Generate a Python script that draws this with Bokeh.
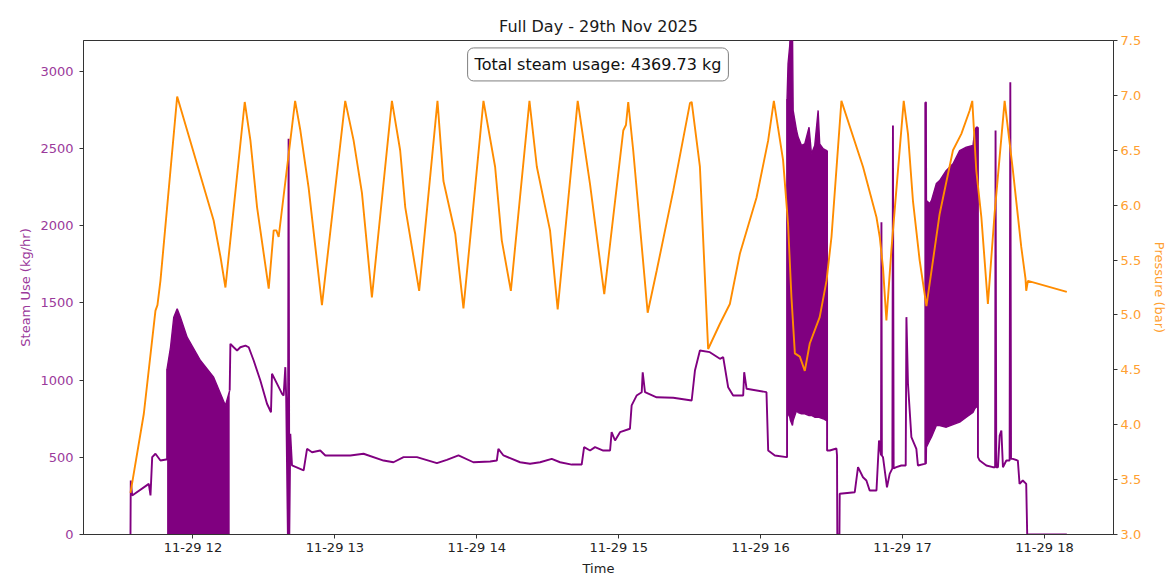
import pandas as pd
from bokeh.plotting import figure
from bokeh.models import (Range1d, LinearAxis, FixedTicker, DatetimeTickFormatter,
                          NumeralTickFormatter, Label)
from bokeh.embed import file_html
from bokeh.resources import INLINE

DAY = "2025-11-29"
TITLE = "Full Day - 29th Nov 2025"
TOTAL_TEXT = "Total steam usage: 4369.73 kg"
X_LABEL = "Time"
Y_LABEL = "Steam Use (kg/hr)"
Y2_LABEL = "Pressure (bar)"

# ---- pressure (bar), times in hours after midnight ----
pressure_hours = [11.560, 11.654, 11.736, 11.750, 11.771, 11.889, 12.146, 12.194, 12.229,
                  12.365, 12.405, 12.452, 12.534, 12.569, 12.588, 12.604, 12.720, 12.757,
                  12.815, 12.909, 13.073, 13.132, 13.191, 13.261, 13.402, 13.460, 13.496,
                  13.594, 13.723, 13.765, 13.848, 13.906, 14.047, 14.129, 14.176, 14.240,
                  14.371, 14.423, 14.516, 14.570, 14.711, 14.798, 14.898, 15.032, 15.051,
                  15.067, 15.102, 15.204, 15.267, 15.384, 15.502, 15.514, 15.572, 15.630,
                  15.713, 15.783, 15.854, 15.971, 16.053, 16.093, 16.158, 16.193, 16.217,
                  16.241, 16.276, 16.311, 16.346, 16.416, 16.464, 16.499, 16.569, 16.721,
                  16.816, 16.839, 16.862, 16.886, 16.921, 17.008, 17.038, 17.073, 17.120,
                  17.168, 17.261, 17.355, 17.414, 17.472, 17.491, 17.519, 17.555, 17.601,
                  17.648, 17.719, 17.777, 17.836, 17.866, 17.871, 17.883, 18.157]
pressure_bar = [3.38, 4.10, 5.04, 5.09, 5.31, 6.99, 5.86, 5.53, 5.25,
                6.94, 6.59, 5.98, 5.24, 5.77, 5.77, 5.71, 6.95, 6.68,
                6.16, 5.09, 6.95, 6.59, 6.11, 5.16, 6.95, 6.50, 5.98,
                5.22, 6.95, 6.22, 5.74, 5.06, 6.95, 6.35, 5.68, 5.22,
                6.95, 6.35, 5.77, 5.05, 6.95, 6.19, 5.19, 6.68, 6.73,
                6.94, 6.50, 5.02, 5.40, 6.13, 6.93, 6.94, 6.35, 4.69,
                4.92, 5.10, 5.56, 6.07, 6.59, 6.95, 6.41, 5.83, 5.16,
                4.65, 4.62, 4.49, 4.74, 4.98, 5.31, 5.71, 6.95, 6.35,
                5.89, 5.71, 5.43, 4.95, 5.59, 6.95, 6.65, 6.04, 5.50,
                5.08, 5.92, 6.50, 6.65, 6.86, 6.95, 6.32, 5.89, 5.10,
                5.92, 6.95, 6.32, 5.62, 5.33, 5.22, 5.31, 5.21]

# ---- steam use (kg/hr), line segments between rapidly cycling periods ----
steam_a_hours = [11.560, 11.562, 11.572, 11.689, 11.701, 11.713, 11.736, 11.771, 11.811, 11.818]
steam_a_kg = [0, 350, 253, 328, 253, 501, 523, 479, 486, 486]

steam_b_hours = [12.259, 12.264, 12.287, 12.311, 12.334, 12.370, 12.393, 12.428, 12.475, 12.522,
                 12.550, 12.557, 12.593, 12.628, 12.639, 12.651, 12.657, 12.669, 12.674, 12.679,
                 12.686, 12.698, 12.780, 12.804, 12.839, 12.897, 12.933, 12.991, 13.109, 13.202,
                 13.343, 13.413, 13.484, 13.578, 13.719, 13.789, 13.871, 13.976, 14.094, 14.141,
                 14.152, 14.188, 14.305, 14.375, 14.446, 14.528, 14.587, 14.669, 14.739, 14.756,
                 14.798, 14.833, 14.891, 14.939, 14.950, 14.974, 15.009, 15.079, 15.091, 15.126,
                 15.162, 15.169, 15.185, 15.267, 15.384, 15.514, 15.537, 15.572, 15.642, 15.713,
                 15.736, 15.771, 15.806, 15.877, 15.884, 15.901, 16.041, 16.053, 16.100, 16.182,
                 16.186]
steam_b_kg = [933, 1235, 1213, 1192, 1213, 1224, 1213, 1127, 998, 847,
              792, 1041, 976, 911, 900, 1084, 894, 0, 2563, 0,
              652, 447, 415, 555, 533, 544, 512, 512, 512, 523,
              479, 468, 501, 501, 462, 484, 512, 468, 473, 479,
              555, 512, 468, 458, 468, 490, 468, 453, 453, 566,
              544, 566, 544, 544, 663, 609, 663, 685, 836, 900,
              922, 1051, 922, 889, 886, 868, 1062, 1192, 1181, 1138,
              1149, 954, 900, 900, 1051, 944, 922, 544, 512, 501,
              501]

steam_c_hours = [16.468, 16.487, 16.534, 16.538, 16.540, 16.555, 16.557, 16.663, 16.686, 16.721,
                 16.745, 16.768, 16.816, 16.834, 16.848, 16.851, 16.854, 16.862, 16.890, 16.909,
                 16.928, 16.932, 16.937, 16.956, 16.991, 17.022, 17.027, 17.038, 17.062, 17.097,
                 17.108, 17.155, 17.160]
steam_c_kg = [544, 544, 557, 512, 0, 0, 264, 274, 436, 371,
              350, 285, 285, 609, 512, 2023, 512, 501, 306, 393,
              428, 2650, 428, 436, 447, 447, 1408, 976, 630, 555,
              447, 458, 458]

steam_d_hours = [17.531, 17.543, 17.590, 17.636, 17.652, 17.655, 17.660, 17.672, 17.684, 17.696,
                 17.707, 17.731, 17.754, 17.759, 17.764, 17.777, 17.812, 17.824, 17.847, 17.871,
                 17.878, 18.157]
steam_d_kg = [501, 479, 447, 436, 436, 2617, 436, 436, 641, 674,
              436, 479, 479, 2930, 490, 490, 479, 328, 350, 328,
              0, 0]

# ---- rapidly cycling periods (envelopes of the steam signal) ----
burst1_hours = [11.818, 11.842, 11.865, 11.889, 11.912, 11.959, 12.053, 12.146, 12.229, 12.259]
burst1_low = [0, 0, 0, 0, 0, 0, 0, 0, 0, 0]
burst1_high = [1075, 1213, 1408, 1462, 1408, 1278, 1127, 1019, 836, 933]

burst2_hours = [16.186, 16.193, 16.205, 16.210, 16.224, 16.229, 16.253, 16.264, 16.288,
                16.311, 16.341, 16.358, 16.381, 16.405, 16.416, 16.440, 16.464, 16.468]
burst2_low = [784, 782, 760, 738, 706, 738, 803, 790, 782,
              782, 771, 771, 760, 760, 758, 750, 738, 738]
burst2_high = [2824, 3051, 3168, 3300, 3300, 2747, 2617, 2574, 2520,
               2531, 2638, 2466, 2520, 2747, 2531, 2499, 2487, 2487]

burst3_hours = [17.160, 17.166, 17.168, 17.191, 17.203, 17.238, 17.261, 17.308, 17.355,
                17.402, 17.449, 17.496, 17.508, 17.519, 17.531]
burst3_low = [460, 460, 565, 609, 630, 706, 706, 695, 712,
              728, 760, 790, 814, 825, 825]
burst3_high = [2800, 2800, 2163, 2144, 2163, 2274, 2293, 2358, 2401,
               2487, 2509, 2520, 2617, 2638, 2638]

hour_ticks = [12, 13, 14, 15, 16, 17, 18]
steam_ticks = [0, 500, 1000, 1500, 2000, 2500, 3000]
pressure_ticks = [3.0, 3.5, 4.0, 4.5, 5.0, 5.5, 6.0, 6.5, 7.0, 7.5]

# ---- helpers ----
BASE_MS = pd.Timestamp(DAY).value // 10**6


def ms(hours):
    return [BASE_MS + h * 3600000.0 for h in hours]


PURPLE = "#800080"
ORANGE = "#ff8c00"
PURPLE_TXT = "#9b3a9b"
ORANGE_TXT = "#ffa030"
FONT = "DejaVu Sans"

x_start, x_end = 11.229, 18.486

p = figure(width=1170, height=588, output_backend="svg", toolbar_location=None,
           x_axis_type="datetime",
           x_range=Range1d(BASE_MS + x_start * 3600000, BASE_MS + x_end * 3600000),
           y_range=Range1d(0, 3200),
           min_border_left=83, min_border_right=56, min_border_top=40, min_border_bottom=54)
p.extra_y_ranges = {"pressure": Range1d(3.0, 7.5)}

p.title.text = TITLE
p.title.align = "center"
p.title.text_font = FONT
p.title.text_font_size = "16px"
p.title.text_font_style = "normal"
p.title.text_color = "#1a1a1a"
p.title.standoff = 9

p.grid.visible = False
p.outline_line_color = "#333333"
p.outline_line_width = 1
p.background_fill_color = "white"
p.border_fill_color = "white"

# x axis
xa = p.xaxis[0]
xa.ticker = FixedTicker(ticks=ms(hour_ticks))
xa.formatter = DatetimeTickFormatter(hours="%m-%d %H", days="%m-%d %H", minutes="%m-%d %H",
                                     hourmin="%m-%d %H")
xa.axis_label = X_LABEL
xa.minor_tick_line_color = None

# left axis
ya = p.yaxis[0]
ya.ticker = FixedTicker(ticks=steam_ticks)
ya.axis_label = Y_LABEL
ya.minor_tick_line_color = None
ya.major_label_text_color = PURPLE_TXT
ya.axis_label_text_color = PURPLE_TXT

# right axis
ra = LinearAxis(y_range_name="pressure", axis_label=Y2_LABEL,
                ticker=FixedTicker(ticks=pressure_ticks),
                formatter=NumeralTickFormatter(format="0.0"))
ra.minor_tick_line_color = None
ra.major_label_text_color = ORANGE_TXT
ra.axis_label_text_color = ORANGE_TXT
p.add_layout(ra, "right")

for ax in (xa, ya, ra):
    ax.major_label_text_font = FONT
    ax.major_label_text_font_size = "13px"
    ax.axis_label_text_font = FONT
    ax.axis_label_text_font_size = "13px"
    ax.axis_label_text_font_style = "normal"
    ax.axis_line_color = "#333333"
    ax.major_tick_line_color = "#333333"
    ax.major_tick_out = 4
    ax.major_tick_in = 0
xa.major_label_text_color = "#222222"
xa.axis_label_text_color = "#222222"
xa.major_label_standoff = 1
xa.axis_label_standoff = 3
ya.major_label_standoff = 6
ya.axis_label_standoff = 4
ra.major_label_standoff = 3
ra.axis_label_standoff = 8

# steam use: rapidly cycling periods drawn as filled envelopes
bursts = ((burst1_hours, burst1_low, burst1_high),
          (burst2_hours, burst2_low, burst2_high),
          (burst3_hours, burst3_low, burst3_high))
for hrs, lo, hi in bursts:
    p.varea(x=ms(hrs), y1=lo, y2=hi, fill_color=PURPLE)
    p.line(x=ms(hrs), y=hi, line_color=PURPLE, line_width=1.4)
    p.line(x=ms(hrs), y=lo, line_color=PURPLE, line_width=1.4)

# steam use: line segments, joined to the neighbouring bursts' edges
segments = ((steam_a_hours, steam_a_kg, None, bursts[0]),
            (steam_b_hours, steam_b_kg, bursts[0], bursts[1]),
            (steam_c_hours, steam_c_kg, bursts[1], bursts[2]),
            (steam_d_hours, steam_d_kg, bursts[2], None))
for hrs, vals, before, after in segments:
    xs, ys = list(hrs), list(vals)
    if before is not None:
        xs = [before[0][-1]] + xs
        ys = [before[2][-1]] + ys
    if after is not None:
        xs = xs + [after[0][0]]
        ys = ys + [after[2][0]]
    p.line(x=ms(xs), y=ys, line_color=PURPLE, line_width=1.9)

# pressure
p.line(x=ms(pressure_hours), y=pressure_bar, line_color=ORANGE, line_width=1.9,
       y_range_name="pressure")

# total usage box
p.add_layout(Label(x=BASE_MS + 14.854 * 3600000, y=3045, text=TOTAL_TEXT,
                   text_align="center", text_baseline="middle",
                   text_font=FONT, text_font_size="16px", text_color="#111111",
                   background_fill_color="white", border_line_color="#7f7f7f",
                   border_line_width=1, padding=7, border_radius=6))

open("out.html", "w").write(file_html(p, INLINE))
